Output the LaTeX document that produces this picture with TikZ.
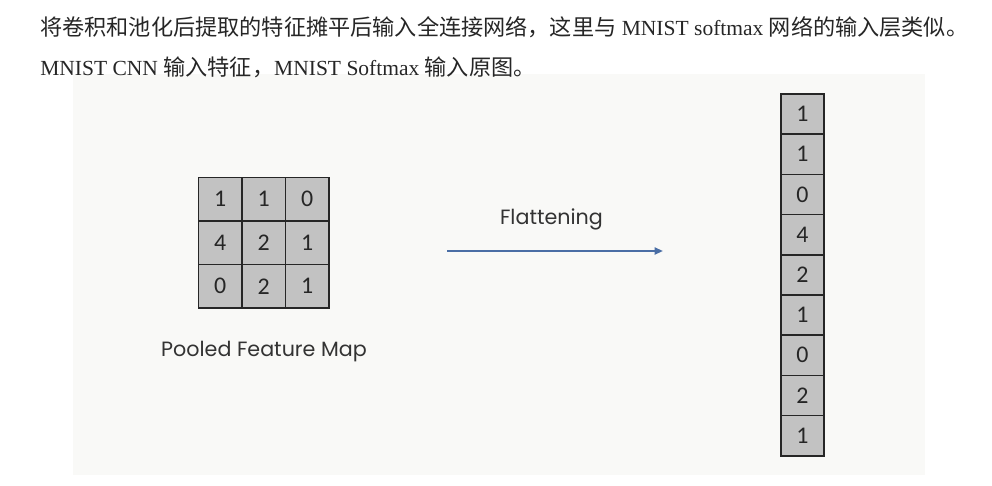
\documentclass[tikz,border=0pt]{standalone}
\usepackage{fontspec}
\setmainfont{Liberation Serif}
\newfontfamily\cjk[Scale=1.03]{Noto Sans CJK SC}
\newfontfamily\poppins{Poppins}
\newfontfamily\carlito{Carlito}
\usetikzlibrary{positioning}
\usetikzlibrary{arrows.meta}
\definecolor{cellgray}{RGB}{194,194,194}
\definecolor{panelbg}{RGB}{249,249,247}
\definecolor{arrowblue}{RGB}{74,110,165}

\begin{document}
\begin{tikzpicture}[x=0.025cm,y=-0.025cm,
  cell/.style={draw=black!85,line width=1.1pt,fill=cellgray,minimum width=1.09cm,minimum height=1.09cm,inner sep=0pt,font=\carlito\fontsize{17}{17}\selectfont,text=black!85},
  vcell/.style={cell,minimum width=1.075cm,minimum height=1.005cm},
  caption/.style={font=\poppins\fontsize{14.7}{14.7}\selectfont,text=black!80},
  intro/.style={anchor=west,inner sep=0pt,font=\fontsize{15.3}{15.3}\selectfont,text=black!85}]
 \useasboundingbox (0,0) rectangle (992,486);
 \fill[panelbg] (73,74) rectangle (925,475);
 % text above the panel
 \node[intro] (line1) at (40,27) {{\cjk 将卷积和池化后提取的特征摊平后输入全连接网络，这里与} MNIST softmax {\cjk 网络的输入层类似。}};
 \node[intro] (line2) at (40,67) {MNIST CNN {\cjk 输入特征，}MNIST Softmax {\cjk 输入原图。}};
 % pooled feature map
 \foreach \r/\c/\v in {0/0/1,0/1/1,0/2/0,1/0/4,1/1/2,1/2/1,2/0/0,2/1/2,2/2/1}
  \node[cell] (pool-\r-\c) at ({220.1+43.6*\c},{199.1+43.6*\r}) {\v};
 \node[caption] (poollabel) at (264,352) {Pooled Feature Map};
 % arrow
 \coordinate (arrstart) at (447,251);
 \coordinate (arrend) at (663,251);
 \draw[arrowblue,line width=1.4pt,-{Triangle[length=6pt,width=5pt]}] (arrstart) -- (arrend);
 \node[caption] (flatlabel) at (551.5,219) {Flattening};
 % flattened column
 \foreach \v [count=\k from 0] in {1,1,0,4,2,1,0,2,1}
  \node[vcell] (flat-\k) at (802.5,{114.1+40.2*\k}) {\v};
\end{tikzpicture}
\end{document}
